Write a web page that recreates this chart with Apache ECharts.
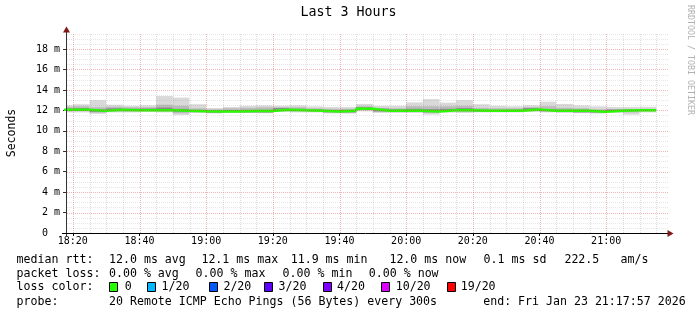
<!DOCTYPE html>
<html><head><meta charset="utf-8">
<script src="https://cdn.jsdelivr.net/npm/echarts@6/dist/echarts.min.js"></script>
<style>html,body{margin:0;padding:0;background:#fff}#c{width:697px;height:315px}</style>
</head><body><div id="c"></div>
<script>
// ---- data (ms) ----
const rangeStart = '18:17:57';
const rangeEnd = '21:17:57';
const stepEnd = ['18:20','18:25','18:30','18:35','18:40','18:45','18:50','18:55',
  '19:00','19:05','19:10','19:15','19:20','19:25','19:30','19:35','19:40','19:45','19:50','19:55',
  '20:00','20:05','20:10','20:15','20:20','20:25','20:30','20:35','20:40','20:45','20:50','20:55',
  '21:00','21:05','21:10','21:15'];
const median = [12.05,12.05,11.95,12.05,12.0,12.0,12.0,11.95,11.92,11.9,11.9,11.93,11.93,12.05,12.0,11.97,11.9,11.95,12.15,11.97,
  11.97,11.97,11.9,12.0,12.0,11.95,11.95,11.97,12.08,11.97,11.97,11.97,11.87,11.97,12.0,12.0];
const outerHi = [12.5,12.6,13.0,12.55,12.45,12.5,13.4,13.25,12.6,12.23,12.33,12.45,12.49,12.45,12.49,12.39,12.33,12.33,12.62,12.45,
  12.45,12.78,13.1,12.76,13.0,12.6,12.45,12.4,12.5,12.85,12.62,12.49,12.39,12.33,12.33,12.35];
const outerLo = [11.8,11.8,11.65,11.8,11.8,11.85,11.8,11.55,11.75,11.7,11.75,11.75,11.72,11.85,11.8,11.8,11.7,11.68,11.9,11.75,
  11.75,11.75,11.58,11.78,11.75,11.8,11.8,11.8,11.85,11.8,11.75,11.72,11.68,11.75,11.58,11.8];
const midHi = [12.35,12.4,12.3,12.35,12.3,12.3,12.55,12.45,12.2,12.1,12.2,12.25,12.3,12.3,12.3,12.2,12.15,12.15,12.4,12.25,
  12.2,12.4,12.4,12.4,12.45,12.25,12.2,12.2,12.3,12.4,12.25,12.2,12.1,12.12,12.1,12.15];
const midLo = [11.9,11.92,11.78,11.9,11.88,11.9,11.88,11.72,11.8,11.76,11.8,11.82,11.8,11.95,11.9,11.88,11.78,11.8,12.02,11.86,
  11.85,11.86,11.74,11.88,11.86,11.86,11.85,11.87,11.96,11.88,11.86,11.82,11.76,11.86,11.8,11.9];
const coreHi = [12.18,12.22,12.1,12.2,12.15,12.18,12.28,12.15,12.05,12.0,12.03,12.05,12.05,12.22,12.15,12.08,12.0,12.05,12.3,12.15,
  12.1,12.15,12.12,12.15,12.22,12.05,12.05,12.07,12.22,12.12,12.08,12.08,11.98,12.08,12.1,12.1];
const coreLo = [11.98,11.98,11.85,11.98,11.95,11.95,11.95,11.85,11.85,11.78,11.83,11.8,11.8,12.0,11.95,11.92,11.82,11.8,12.08,11.9,
  11.9,11.92,11.82,11.94,11.92,11.88,11.88,11.9,12.0,11.92,11.9,11.8,11.8,11.92,11.92,11.94];
const xTickLabels = ['18:20','18:40','19:00','19:20','19:40','20:00','20:20','20:40','21:00'];
const yTicks = [0,2,4,6,8,10,12,14,16,18];
const yMax = 19.57;
const lossLabels = ['0','1/20','2/20','3/20','4/20','10/20','19/20'];
const lossColors = ['#26ff00','#00b8ff','#0059ff','#5e00ff','#7e00ff','#dd00ff','#ff0000'];
const legendRow1 = ['median rtt:','12.0 ms avg','12.1 ms max','11.9 ms min','12.0 ms now','0.1 ms sd','222.5','am/s'];
const legendRow2 = ['packet loss:','0.00 % avg','0.00 % max','0.00 % min','0.00 % now'];
const legendRow4 = ['probe:','20 Remote ICMP Echo Pings (56 Bytes) every 300s','end: Fri Jan 23 21:17:57 2026'];

// ---- helpers ----
function toMin(t){const p=t.split(':').map(Number);return (p[0]-18)*60+p[1]+(p[2]||0)/60;}
function fmt(v){const h=18+Math.floor(v/60), m=Math.round(v%60);return h+':'+(m<10?'0':'')+m;}
const X_MIN = toMin(rangeStart), X_MAX = toMin(rangeEnd);
const STEP = 5;
const MONO = "'DejaVu Sans Mono', monospace";

const smokeData = stepEnd.map((t,i)=>{const e=toMin(t);return [e-STEP,e,outerLo[i],outerHi[i],midLo[i],midHi[i],coreLo[i],coreHi[i]];});
const medianData = stepEnd.map((t,i)=>[toMin(t)-STEP, median[i]]);
medianData.push([toMin(stepEnd[stepEnd.length-1]), median[median.length-1]]);

// grid lines: [value, kind] kind 0 h-minor, 1 h-major, 2 v-minor, 3 v-major
const gridData = [];
for (let v=0.5; v<yMax; v+=0.5){ if(Math.abs(v%2)<1e-9) gridData.push([v,1]); else gridData.push([v,0]); }
for (let v=Math.ceil(X_MIN/5)*5; v<X_MAX; v+=5){ if(v%20===0) gridData.push([v,3]); else gridData.push([v,2]); }

const chart = echarts.init(document.getElementById('c'), null, {renderer:'canvas'});

function smokeItem(params, api){
  const s=api.value(0), e=api.value(1);
  function rect(lo,hi,fill){
    const a=api.coord([s,hi]), b=api.coord([e,lo]);
    return {type:'rect', shape:{x:a[0],y:a[1],width:b[0]-a[0],height:b[1]-a[1]}, style:{fill:fill}};
  }
  return {type:'group', children:[
    rect(api.value(2),api.value(3),'#d9d9d9'),
    rect(api.value(4),api.value(5),'#bababa'),
    rect(api.value(6),api.value(7),'#8a8a8a')
  ]};
}
function gridItem(params, api){
  const v=api.value(0), k=api.value(1);
  let stroke;
  if (k===1||k===3) stroke='rgba(220,60,60,0.38)';
  else if (k===2) stroke='rgba(150,150,150,0.32)';
  else stroke='rgba(150,150,150,0.24)';
  let x1,y1,x2,y2;
  if (k<2){ const a=api.coord([X_MIN,v]), b=api.coord([X_MAX,v]); const y=Math.round(a[1])+0.5; x1=a[0]+1;x2=b[0]+2;y1=y;y2=y; }
  else { const a=api.coord([v,0]), b=api.coord([v,yMax]); const x=Math.round(a[0])+0.5; x1=x;x2=x;y1=a[1];y2=b[1]; }
  return {type:'line', shape:{x1,y1,x2,y2}, style:{stroke, lineWidth:1, lineDash:[1,1]}};
}

const graphics = [];
// axes lines and arrows
graphics.push({type:'line', shape:{x1:66.5,y1:236,x2:66.5,y2:31}, style:{stroke:'#333',lineWidth:1}, z:10});
graphics.push({type:'line', shape:{x1:62,y1:233.5,x2:669,y2:233.5}, style:{stroke:'#000',lineWidth:1}, z:10});
graphics.push({type:'polygon', shape:{points:[[63,32.5],[70,32.5],[66.5,26.5]]}, style:{fill:'#801818'}, z:11});
graphics.push({type:'polygon', shape:{points:[[667.5,230],[667.5,237],[673.5,233.5]]}, style:{fill:'#801818'}, z:11});
// watermark
graphics.push({type:'text', x:690, y:60, rotation:-Math.PI/2, style:{text:'RRDTOOL / TOBI OETIKER', fontFamily:MONO, fontSize:8.3, fill:'#b0b0b0', align:'center', verticalAlign:'middle'}});
// legend
function txt(x,y,t){graphics.push({type:'text', x:x, y:y, style:{text:t, fontFamily:MONO, fontSize:11.6, fill:'#000', verticalAlign:'middle'}});}
const r1x=[16.6,109,201.4,290.7,389.4,483.6,564.4,620.5];
legendRow1.forEach((t,i)=>txt(r1x[i],259.5,t));
const r2x=[16.6,109,195.6,282.6,368.8];
legendRow2.forEach((t,i)=>txt(r2x[i],273.5,t));
txt(16.6,287,'loss color:');
const boxX=[109,146.7,208.6,263.8,322.6,381.3,446.8];
const boxTX=[124.7,161.5,223.4,278.6,337,395.7,460.7];
lossLabels.forEach((t,i)=>{
  graphics.push({type:'rect', shape:{x:Math.round(boxX[i])+0.5,y:282.5,width:8,height:9}, style:{fill:lossColors[i],stroke:'#000',lineWidth:1}});
  txt(boxTX[i],287,t);
});
const r4x=[16.6,109,483.2];
legendRow4.forEach((t,i)=>txt(r4x[i],302,t));

const option = {
  animation:false,
  backgroundColor:'#ffffff',
  title:{text:'Last 3 Hours', left:'center', top:1, textStyle:{fontFamily:MONO, fontSize:13.3, fontWeight:'normal', color:'#000'}},
  grid:{left:66, top:33, width:600, height:200, containLabel:false, outerBoundsMode:'none'},
  xAxis:{type:'value', min:X_MIN, max:X_MAX,
    axisLine:{show:false}, splitLine:{show:false},
    axisTick:{show:true, customValues:xTickLabels.map(toMin), length:3, lineStyle:{color:'#000'}},
    axisLabel:{customValues:xTickLabels.map(toMin), formatter:v=>fmt(v), margin:3, fontFamily:MONO, fontSize:10, color:'#000'}},
  yAxis:{type:'value', min:0, max:yMax, name:'Seconds', nameLocation:'middle', nameGap:48,
    nameTextStyle:{fontFamily:MONO, fontSize:11.5, color:'#000'},
    axisLine:{show:false}, splitLine:{show:false},
    axisTick:{show:true, customValues:yTicks, length:3, lineStyle:{color:'#333'}},
    axisLabel:{customValues:yTicks, formatter:v=>v===0?'0  ':(v+' m'), margin:6, fontFamily:MONO, fontSize:10, color:'#000'}},
  series:[
    {type:'custom', name:'smoke', renderItem:smokeItem, data:smokeData, clip:true, z:2, silent:true,
      encode:{x:[0,1], y:[2,3,4,5,6,7]}},
    {type:'line', name:'median', data:medianData, step:'end', showSymbol:false, clip:true, z:3, silent:true,
      lineStyle:{color:'#26ff00', width:2.5}, itemStyle:{color:'#26ff00'}},
    {type:'custom', name:'grid', renderItem:gridItem, data:gridData, z:4, silent:true, encode:{x:0,y:1}}
  ],
  graphic:graphics
};
chart.setOption(option);
</script></body></html>
